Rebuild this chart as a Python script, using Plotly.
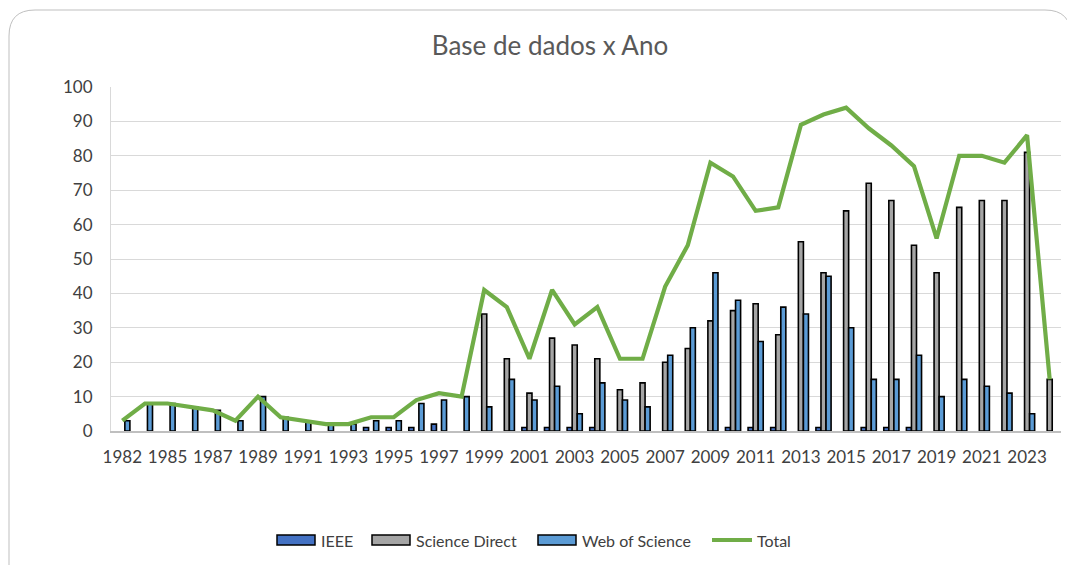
import plotly.graph_objects as go

years = ["1982", "1983"] + [str(y) for y in range(1985, 2025)]
ieee = [0, 0, 0, 0, 0, 0, 0, 0, 0, 0, 0, 1, 1, 1, 2, 0,
        0, 0, 1, 1, 1, 1, 0, 0, 0, 0, 0, 1, 1, 1, 0, 1, 0, 1, 1, 1, 0, 0, 0, 0, 0, 0]
science_direct = [0, 0, 0, 0, 0, 0, 0, 0, 0, 0, 0, 0, 0, 0, 0, 0,
                  34, 21, 11, 27, 25, 21, 12, 14, 20, 24, 32, 35, 37, 28, 55, 46, 64, 72, 67, 54, 46, 65, 67, 67, 81, 15]
web_of_science = [3, 8, 8, 7, 6, 3, 10, 4, 3, 2, 2, 3, 3, 8, 9, 10,
                  7, 15, 9, 13, 5, 14, 9, 7, 22, 30, 46, 38, 26, 36, 34, 45, 30, 15, 15, 22, 10, 15, 13, 11, 5, 0]
total = [3, 8, 8, 7, 6, 3, 10, 4, 3, 2, 2, 4, 4, 9, 11, 10,
         41, 36, 21, 41, 31, 36, 21, 21, 42, 54, 78, 74, 64, 65, 89, 92, 94, 88, 83, 77, 56, 80, 80, 78, 86, 15]
tick_labels = years[::2]
y_ticks = list(range(0, 101, 10))

series_names = ["IEEE", "Science Direct", "Web of Science", "Total"]
colors = ["#4472C4", "#A5A5A5", "#5B9BD5", "#70AD47"]

FONT = "Lato, 'Open Sans', sans-serif"
TEXT = "#404040"
outline = dict(color="black", width=1.6)

def nz(vals):
    return [v if v else None for v in vals]

fig = go.Figure()
for name, vals, col in zip(series_names[:3], [ieee, science_direct, web_of_science], colors[:3]):
    fig.add_trace(go.Bar(name=name, x=years, y=nz(vals), marker=dict(color=col, line=outline)))
fig.add_trace(go.Scatter(name="Total", x=years, y=total, mode="lines",
                         line=dict(color=colors[3], width=4.2)))

# screen-pixel -> paper conversion (page body has an 8px offset)
L, T, R, B = 111, 87, 1061, 431
OFF = 8
def px(x):
    return (x - L) / (R - L)
def py(y):
    return (B - y) / (B - T)

x0, x1, y0, y1, r = 9, 1071, 10, 600, 26
path = (f"M {px(x0)},{py(y0 + r)} Q {px(x0)},{py(y0)} {px(x0 + r)},{py(y0)} "
        f"L {px(x1 - r)},{py(y0)} Q {px(x1)},{py(y0)} {px(x1)},{py(y0 + r)} "
        f"L {px(x1)},{py(y1)} L {px(x0)},{py(y1)} Z")
shapes = [dict(type="path", path=path, xref="paper", yref="paper",
               line=dict(color="#BFBFBF", width=1), fillcolor="rgba(0,0,0,0)", layer="below")]
annotations = []

# custom legend (wide swatches like the original)
leg_y = 540
swatch_x = [277, 372, 538, 712]
text_x = [319, 414, 580, 755]
for i, name in enumerate(series_names):
    sx = swatch_x[i]
    if i < 3:
        shapes.append(dict(type="rect", xref="paper", yref="paper",
                           x0=px(sx), x1=px(sx + 38), y0=py(leg_y + 5), y1=py(leg_y - 5),
                           fillcolor=colors[i], line=dict(color="black", width=1.5)))
    else:
        shapes.append(dict(type="line", xref="paper", yref="paper",
                           x0=px(sx), x1=px(sx + 40), y0=py(leg_y), y1=py(leg_y),
                           line=dict(color=colors[i], width=4)))
    annotations.append(dict(text=name, xref="paper", yref="paper", x=px(text_x[i]), y=py(leg_y),
                            xanchor="left", yanchor="middle", showarrow=False,
                            font=dict(size=16, color=TEXT, family=FONT)))

fig.update_layout(
    width=1075, height=565,
    margin=dict(l=L - OFF, r=1075 - (R - OFF), t=T - OFF, b=565 - (B - OFF)),
    paper_bgcolor="white", plot_bgcolor="white",
    font=dict(family=FONT, size=16, color=TEXT),
    title=dict(text="Base de dados x Ano", x=(550 - OFF) / 1075, xref="container", xanchor="center",
               y=1 - (46 - OFF) / 565, yref="container", yanchor="middle",
               font=dict(size=26, color="#595959", family=FONT)),
    barmode="group", bargap=0.33, bargroupgap=0,
    showlegend=False,
    shapes=shapes, annotations=annotations,
)
fig.update_xaxes(type="category", tickmode="array", tickvals=tick_labels, ticktext=tick_labels,
                 showgrid=False, showline=True, linecolor="#BFBFBF", linewidth=1.5,
                 ticks="", ticklabelstandoff=10, tickfont=dict(size=17, color=TEXT))
fig.update_yaxes(range=[0, 100], tickvals=y_ticks, showgrid=True, gridcolor="#D9D9D9", gridwidth=1,
                 showline=True, linecolor="#D9D9D9", zeroline=False, ticks="",
                 ticklabelstandoff=14, tickfont=dict(size=17, color=TEXT))

fig.write_html("out.html")
